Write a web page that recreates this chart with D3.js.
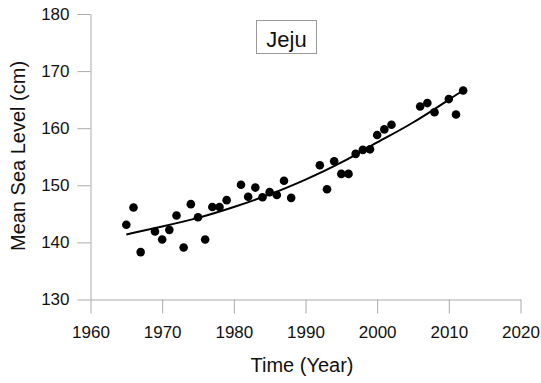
<!DOCTYPE html>
<html><head><meta charset="utf-8">
<script src="https://cdn.jsdelivr.net/npm/d3@7"></script>
<style>body{margin:0;background:#fff}svg{display:block}text{font-family:"Liberation Sans",Arial,sans-serif}</style>
</head><body>
<script>
const years = [1965,1966,1967,1969,1970,1971,1972,1973,1974,1975,1976,1977,1978,1979,1981,1982,1983,1984,1985,1986,1987,1988,1992,1993,1994,1995,1996,1997,1998,1999,2000,2001,2002,2006,2007,2008,2010,2011,2012];
const seaLevel = [143.1,146.1,138.3,141.9,140.5,142.2,144.7,139.1,146.7,144.4,140.5,146.2,146.2,147.4,150.1,148.0,149.6,147.9,148.8,148.3,150.8,147.8,153.5,149.3,154.2,152.0,152.0,155.5,156.2,156.3,158.8,159.8,160.6,163.8,164.4,162.8,165.1,162.4,166.6];
const trendYears = [1965,1970,1975,1980,1985,1990,1995,2000,2005,2010,2012];
const trendValues = [141.4,142.8,144.3,146.2,148.4,151.0,154.0,157.5,161.0,165.0,166.6];
const xTicks = [1960,1970,1980,1990,2000,2010,2020];
const yTicks = [130,140,150,160,170,180];
const title = "Jeju";

const W = 541, H = 383;
const svg = d3.select("body").append("svg").attr("width", W).attr("height", H);
const x = d3.scaleLinear().domain([1960, 2020]).range([90.5, 520.5]);
const y = d3.scaleLinear().domain([130, 180]).range([299.5, 14]);
const axisColor = "#aaaaaa";

const gx = svg.append("g").attr("transform", `translate(0,${y(130)})`)
  .call(d3.axisBottom(x).tickValues(xTicks).tickFormat(d3.format("d")).tickSize(14).tickSizeOuter(0).tickPadding(12));
const gy = svg.append("g").attr("transform", `translate(${x(1960)},0)`)
  .call(d3.axisLeft(y).tickValues(yTicks).tickSize(13).tickSizeOuter(0).tickPadding(8));
[gx, gy].forEach(g => {
  g.select(".domain").attr("stroke", axisColor);
  g.selectAll(".tick line").attr("stroke", axisColor);
  g.selectAll(".tick text").attr("fill", "#111").attr("font-size", 17).attr("font-family", '"Liberation Sans",Arial,sans-serif');
});
gx.selectAll(".tick text").attr("dy", "0.71em");

// trend curve
const line = d3.line().x((d, i) => x(trendYears[i])).y(d => y(d)).curve(d3.curveNatural);
svg.append("path").datum(trendValues).attr("d", line)
  .attr("fill", "none").attr("stroke", "#000").attr("stroke-width", 2);

// points
svg.append("g").selectAll("circle").data(seaLevel).join("circle")
  .attr("cx", (d, i) => x(years[i])).attr("cy", d => y(d)).attr("r", 4.3).attr("fill", "#000");

// title box
const tb = svg.append("g");
tb.append("rect").attr("x", 256.5).attr("y", 20.5).attr("width", 60).attr("height", 33)
  .attr("fill", "#fff").attr("stroke", "#999").attr("stroke-width", 1);
tb.append("text").attr("x", 286.5).attr("y", 46.5).attr("text-anchor", "middle")
  .attr("font-size", 22).attr("fill", "#111").text(title);

// axis titles
svg.append("text").attr("x", 302).attr("y", 372).attr("text-anchor", "middle")
  .attr("font-size", 20).attr("fill", "#111").text("Time (Year)");
svg.append("text").attr("transform", "translate(25,156) rotate(-90)").attr("text-anchor", "middle")
  .attr("font-size", 20).attr("fill", "#111").text("Mean Sea Level (cm)");
</script>
</body></html>
